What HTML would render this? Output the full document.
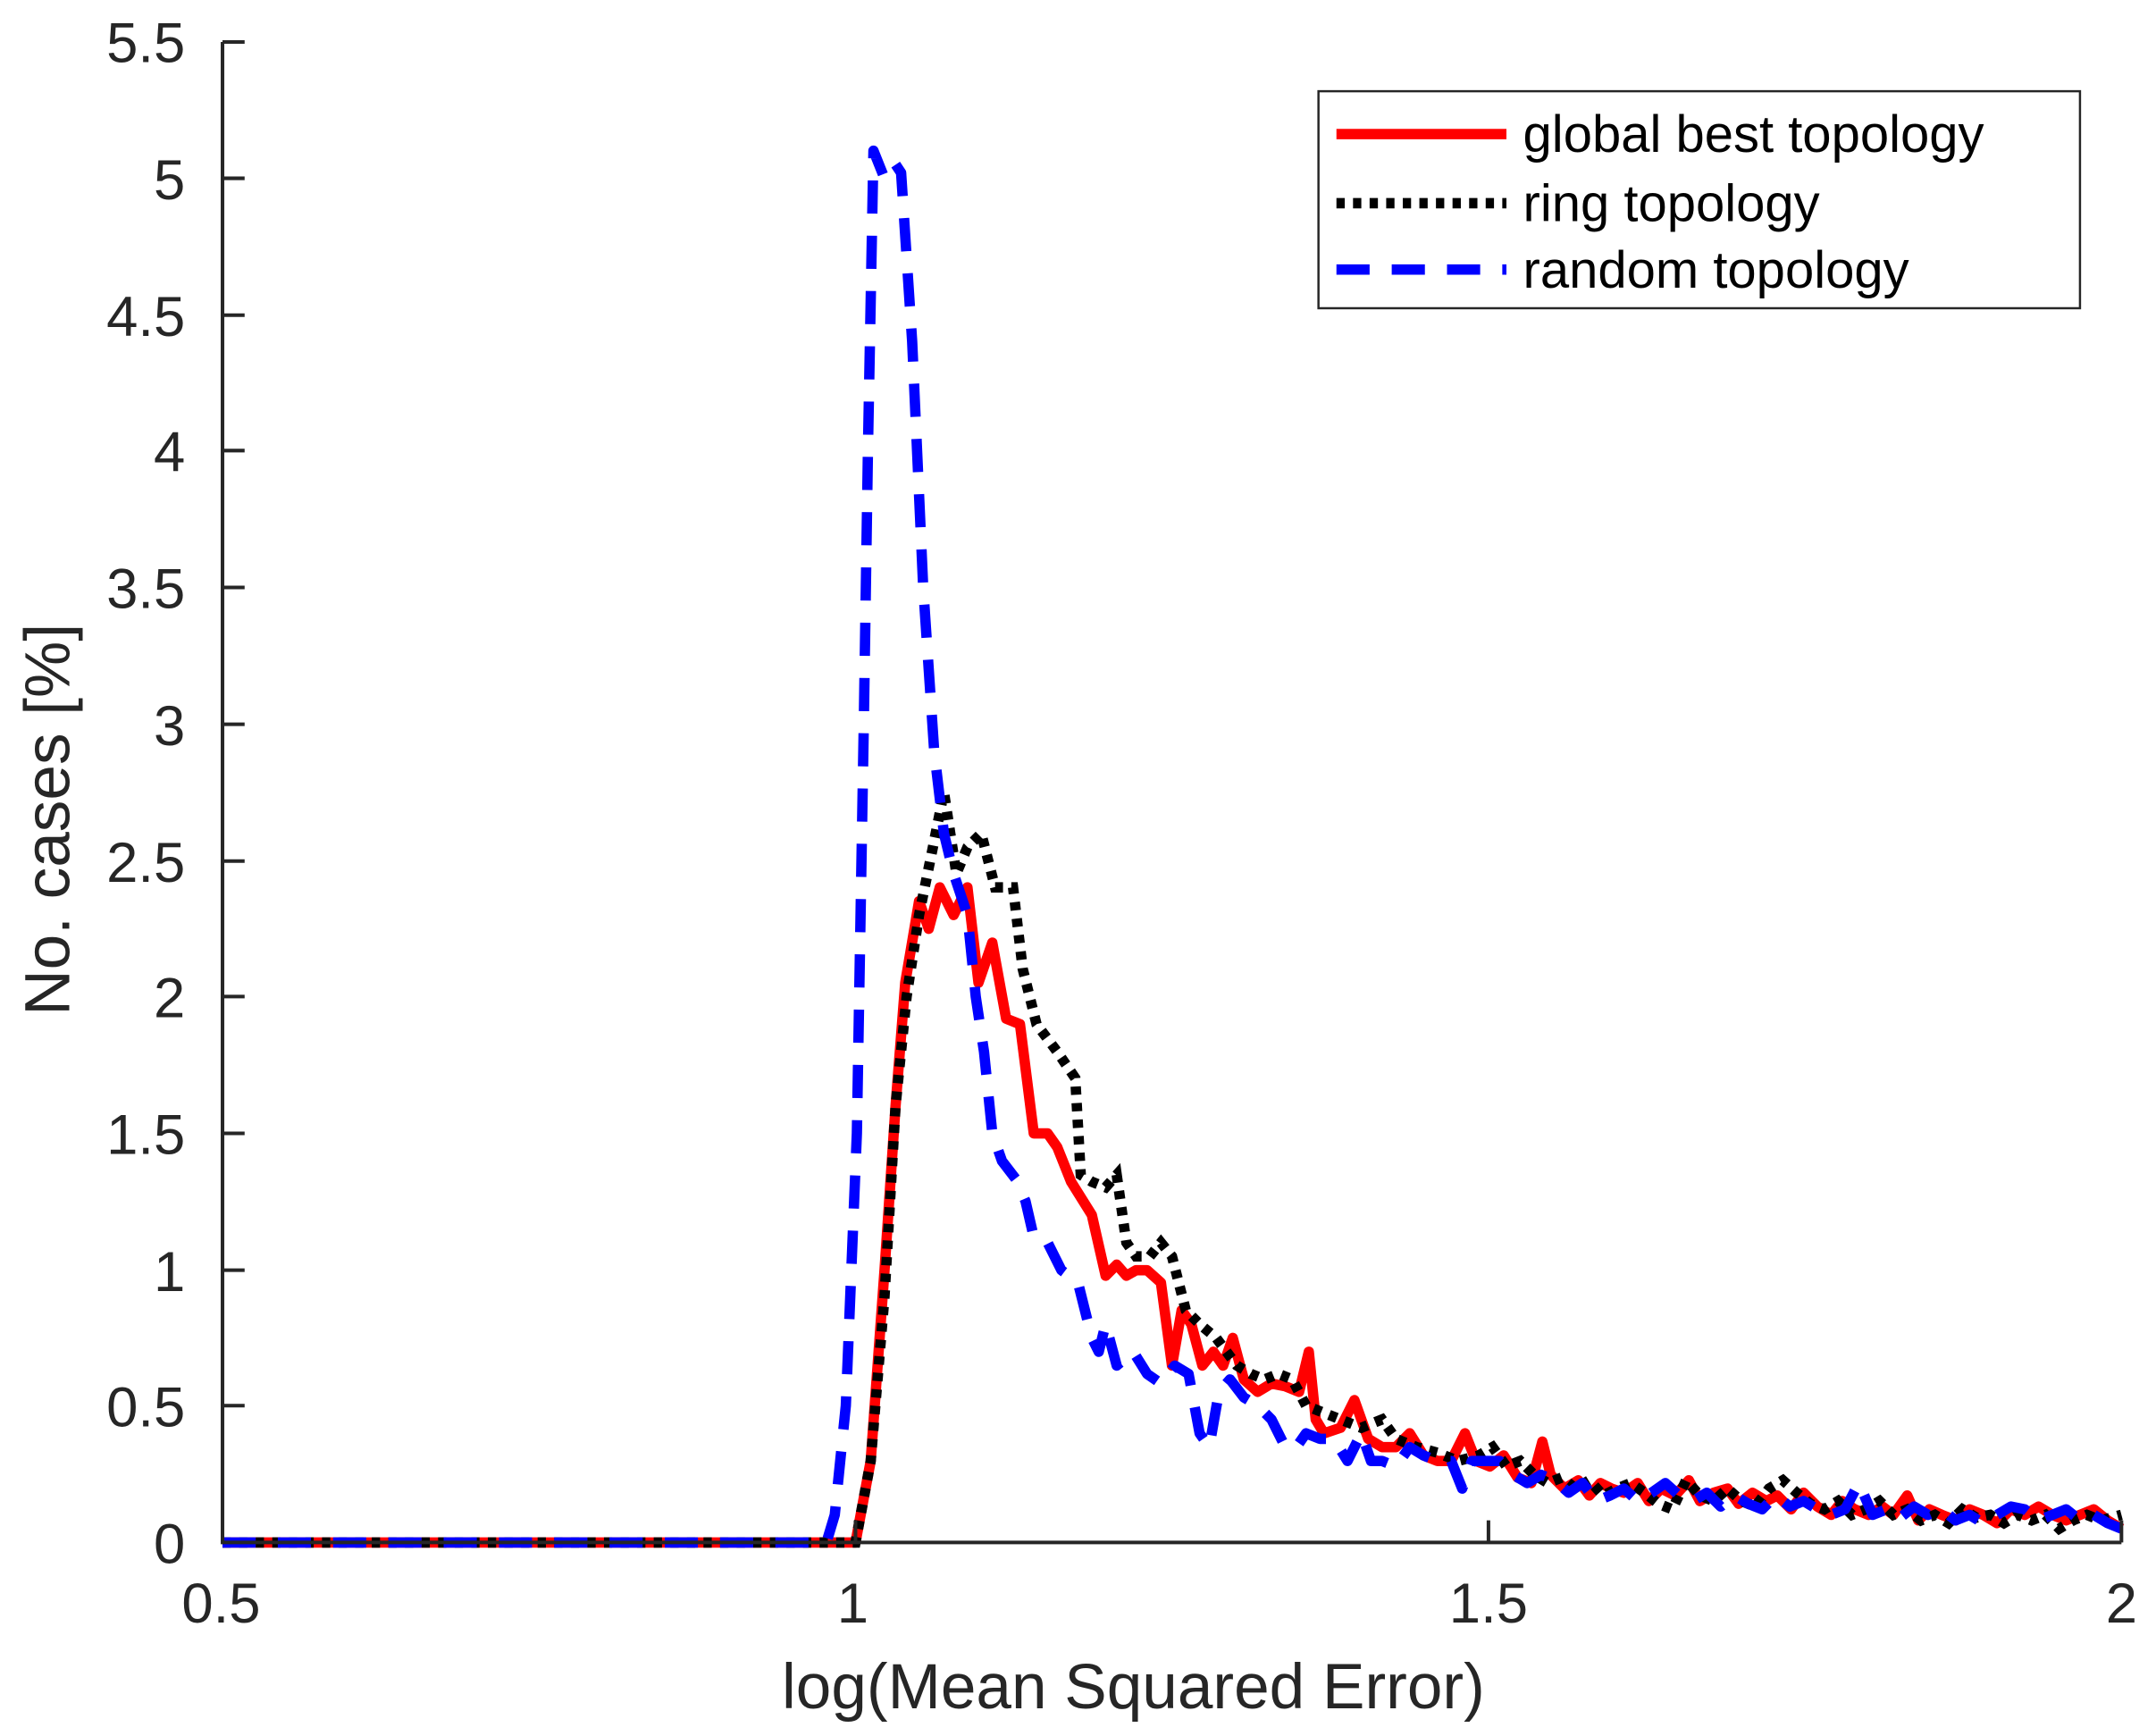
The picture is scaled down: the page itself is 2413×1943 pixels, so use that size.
<!DOCTYPE html>
<html><head><meta charset="utf-8"><style>html,body{margin:0;padding:0;background:#fff}svg{display:block}</style></head>
<body>
<svg width="2413" height="1943" viewBox="0 0 1560 1256" preserveAspectRatio="none" xmlns="http://www.w3.org/2000/svg" font-family="Liberation Sans, sans-serif" fill="#262626">
<g stroke-linejoin="round" fill="none">
<path stroke="#ff0000" stroke-width="7.5" d="M161,1116 L619,1116 L630,1057 L640,919 L648,800 L655,711 L665,652 L672,672 L680,642 L690,662 L700,642 L708,711 L718,682 L728,737 L738,741 L748,820 L758,820 L765,830 L775,855 L790,879 L800,923 L808,915 L815,923 L822,919 L830,919 L840,928 L848,988 L855,948 L862,958 L870,988 L878,978 L885,988 L892,968 L900,998 L910,1007 L920,1001 L930,1003 L940,1007 L947,978 L952,1027 L958,1037 L970,1033 L980,1013 L990,1041 L1000,1047 L1010,1047 L1020,1037 L1030,1053 L1040,1057 L1050,1057 L1060,1037 L1068,1057 L1078,1061 L1088,1053 L1098,1069 L1108,1073 L1116,1043 L1122,1067 L1132,1077 L1142,1071 L1150,1082 L1158,1073 L1166,1077 L1175,1080 L1185,1073 L1193,1086 L1202,1077 L1212,1082 L1222,1071 L1230,1086 L1240,1080 L1250,1077 L1258,1088 L1268,1080 L1278,1086 L1286,1082 L1296,1092 L1305,1080 L1315,1090 L1325,1096 L1333,1086 L1342,1092 L1352,1096 L1362,1090 L1370,1096 L1380,1082 L1388,1100 L1396,1092 L1405,1096 L1415,1100 L1425,1092 L1435,1096 L1445,1102 L1455,1092 L1465,1096 L1475,1090 L1485,1096 L1495,1100 L1505,1096 L1515,1092 L1525,1100 L1535,1106"/>
<path stroke="#000" stroke-width="7.5" stroke-dasharray="6 6" stroke-linejoin="miter" d="M161,1116 L619,1116 L630,1057 L640,938 L648,800 L656,721 L665,662 L675,613 L683,573 L692,632 L700,613 L710,603 L720,642 L733,642 L740,701 L750,741 L765,761 L778,780 L782,850 L790,855 L800,859 L808,850 L815,899 L822,909 L832,909 L840,899 L848,909 L858,948 L868,958 L880,968 L895,988 L905,994 L915,998 L925,994 L935,998 L945,1017 L955,1021 L970,1027 L985,1033 L1000,1027 L1010,1041 L1025,1047 L1040,1051 L1055,1057 L1070,1053 L1080,1047 L1090,1061 L1100,1057 L1110,1067 L1120,1073 L1130,1069 L1140,1077 L1150,1071 L1160,1082 L1170,1077 L1180,1073 L1190,1080 L1200,1088 L1210,1092 L1220,1071 L1230,1082 L1240,1086 L1250,1077 L1260,1086 L1270,1090 L1280,1077 L1290,1071 L1300,1080 L1310,1088 L1320,1092 L1330,1086 L1340,1096 L1350,1092 L1360,1086 L1370,1096 L1380,1092 L1390,1100 L1400,1096 L1410,1102 L1420,1092 L1430,1098 L1440,1096 L1450,1102 L1460,1096 L1470,1100 L1480,1096 L1490,1106 L1500,1100 L1510,1096 L1520,1100 L1535,1096"/>
<path stroke="#0000ff" stroke-width="7.5" stroke-dasharray="24 16" d="M161,1116 L598,1116 L604,1096 L612,1017 L620,820 L625,524 L628,326 L632,109 L640,129 L648,119 L652,125 L660,247 L668,425 L676,544 L683,603 L690,632 L700,662 L706,721 L712,761 L718,820 L725,840 L735,853 L742,869 L748,895 L758,899 L768,919 L780,928 L790,968 L795,978 L800,958 L808,988 L820,978 L830,994 L840,1001 L850,988 L860,994 L868,1037 L875,1047 L882,1007 L890,998 L900,1011 L910,1017 L920,1027 L930,1047 L938,1047 L945,1037 L955,1041 L965,1041 L975,1057 L985,1037 L992,1057 L1000,1057 L1010,1061 L1020,1047 L1030,1053 L1040,1057 L1050,1057 L1058,1077 L1065,1057 L1075,1057 L1085,1057 L1095,1067 L1105,1073 L1115,1067 L1125,1071 L1135,1080 L1145,1073 L1155,1086 L1165,1082 L1175,1077 L1185,1086 L1195,1080 L1205,1073 L1215,1082 L1225,1086 L1235,1080 L1245,1090 L1255,1082 L1265,1088 L1275,1092 L1285,1082 L1295,1090 L1305,1086 L1315,1092 L1325,1096 L1335,1092 L1345,1073 L1355,1096 L1365,1092 L1375,1098 L1385,1090 L1395,1096 L1405,1092 L1415,1100 L1425,1096 L1435,1102 L1445,1096 L1455,1090 L1465,1092 L1475,1100 L1485,1096 L1495,1092 L1505,1100 L1515,1096 L1525,1102 L1535,1106"/>
</g>
<g stroke="#262626" stroke-width="2.6" fill="none">
<path d="M161,30.4 L161,1116 L1535,1116"/>
<path d="M161,30.4h16 M161,129h16 M161,228h16 M161,326h16 M161,425h16 M161,524h16 M161,623h16 M161,721h16 M161,820h16 M161,919h16 M161,1017h16"/>
<path d="M619,1116v-16 M1077,1116v-16 M1535,1116v-16"/>
</g>
<g font-size="41" text-anchor="end">
<text x="134" y="45">5.5</text><text x="134" y="144">5</text><text x="134" y="243">4.5</text><text x="134" y="341">4</text><text x="134" y="440">3.5</text><text x="134" y="539">3</text><text x="134" y="638">2.5</text><text x="134" y="736">2</text><text x="134" y="835">1.5</text><text x="134" y="934">1</text><text x="134" y="1032">0.5</text><text x="134" y="1131">0</text>
</g>
<g font-size="41" text-anchor="middle">
<text x="160" y="1174">0.5</text><text x="617" y="1174">1</text><text x="1077" y="1174">1.5</text><text x="1535" y="1174">2</text>
<text x="820" y="1236" font-size="46">log(Mean Squared Error)</text>
<text transform="translate(50,593) rotate(-90)" font-size="46">No. cases [%]</text>
</g>
<rect x="954" y="66" width="551" height="157" fill="#fff" stroke="#262626" stroke-width="1.6"/>
<path d="M967,97H1090" stroke="#ff0000" stroke-width="7.5"/>
<path d="M967,147H1090" stroke="#000" stroke-width="7.5" stroke-dasharray="6 6"/>
<path d="M967,195H1090" stroke="#0000ff" stroke-width="7.5" stroke-dasharray="24 16"/>
<g font-size="37.5" fill="#000">
<text x="1102" y="110">global best topology</text>
<text x="1102" y="160">ring topology</text>
<text x="1102" y="208">random topology</text>
</g>
</svg>
</body></html>
